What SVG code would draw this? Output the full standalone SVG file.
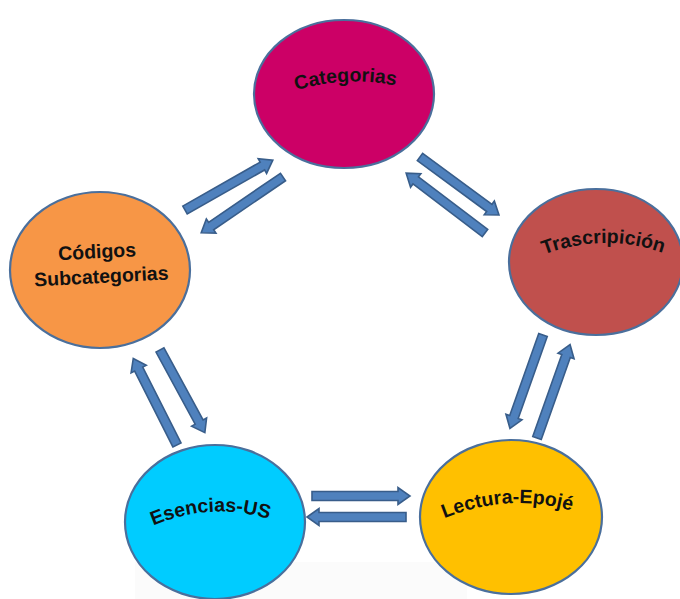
<svg xmlns="http://www.w3.org/2000/svg" width="680" height="599" viewBox="0 0 680 599">
<defs>
<style>
.node{stroke:#4a6f9c;stroke-width:2.2}
.lbl{font-family:"Liberation Sans",Arial,sans-serif;font-weight:bold;font-size:19.5px;fill:#111}
.arr{fill:#4f81bd;stroke:#385d8a;stroke-width:1.6;stroke-linejoin:miter}
</style>
<path id="p-cat" d="M294,91 Q345,75 398,86" fill="none"/>
<path id="p-tra" d="M538,257 Q604,230 669,255" fill="none"/>
<path id="p-ese" d="M148,528 Q212,499 274,521" fill="none"/>
<path id="p-lec" d="M440,520 Q508,491 576,512" fill="none"/>
</defs>
<rect width="680" height="599" fill="#ffffff"/>
<rect x="135" y="562" width="332" height="37" fill="#fbfbfb"/>
<g id="connectors">
<path class="arr" transform="translate(185,210) rotate(-29.6)" d="M0,-4.5 L89,-4.5 L89,-8.5 L101,0 L89,8.5 L89,4.5 L0,4.5 Z"/>
<path class="arr" transform="translate(283,177) rotate(145.7)" d="M0,-4.5 L87,-4.5 L87,-8.5 L99,0 L87,8.5 L87,4.5 L0,4.5 Z"/>
<path class="arr" transform="translate(420,157) rotate(36.3)" d="M0,-4.5 L86,-4.5 L86,-8.5 L98,0 L86,8.5 L86,4.5 L0,4.5 Z"/>
<path class="arr" transform="translate(485,233) rotate(-142.8)" d="M0,-4.5 L87,-4.5 L87,-8.5 L99,0 L87,8.5 L87,4.5 L0,4.5 Z"/>
<path class="arr" transform="translate(543,335) rotate(109.5)" d="M0,-4.5 L87,-4.5 L87,-8.5 L99,0 L87,8.5 L87,4.5 L0,4.5 Z"/>
<path class="arr" transform="translate(537,438) rotate(-70.5)" d="M0,-4.5 L87,-4.5 L87,-8.5 L99,0 L87,8.5 L87,4.5 L0,4.5 Z"/>
<path class="arr" transform="translate(312,496) rotate(0)" d="M0,-4.5 L86,-4.5 L86,-8.5 L98,0 L86,8.5 L86,4.5 L0,4.5 Z"/>
<path class="arr" transform="translate(406,517) rotate(180)" d="M0,-4.5 L87,-4.5 L87,-8.5 L99,0 L87,8.5 L87,4.5 L0,4.5 Z"/>
<path class="arr" transform="translate(160,350) rotate(61.5)" d="M0,-4.5 L82,-4.5 L82,-8.5 L94,0 L82,8.5 L82,4.5 L0,4.5 Z"/>
<path class="arr" transform="translate(177,445) rotate(-116.8)" d="M0,-4.5 L85,-4.5 L85,-8.5 L97,0 L85,8.5 L85,4.5 L0,4.5 Z"/>
</g>
<g id="categorias">
<ellipse class="node" cx="344" cy="94" rx="90" ry="74" fill="#cc0066"/>
<text class="lbl"><textPath href="#p-cat" startOffset="50%" text-anchor="middle">Categorias</textPath></text>
</g>
<g id="trascripcion">
<ellipse class="node" cx="596" cy="262" rx="87" ry="73" fill="#c0504d"/>
<text class="lbl"><textPath href="#p-tra" startOffset="50%" text-anchor="middle">Trascripición</textPath></text>
</g>
<g id="codigos">
<ellipse class="node" cx="100" cy="270" rx="90" ry="78" fill="#f79646"/>
<g transform="rotate(-3 100 270)">
<text class="lbl" x="98" y="258" text-anchor="middle">Códigos</text>
<text class="lbl" x="101" y="283" text-anchor="middle">Subcategorias</text>
</g>
</g>
<g id="esencias">
<ellipse class="node" cx="215" cy="522" rx="90" ry="77" fill="#00ccff"/>
<text class="lbl"><textPath href="#p-ese" startOffset="50%" text-anchor="middle">Esencias-US</textPath></text>
</g>
<g id="lectura">
<ellipse class="node" cx="511" cy="517" rx="91" ry="77" fill="#ffc000"/>
<text class="lbl"><textPath href="#p-lec" startOffset="50%" text-anchor="middle">Lectura-Epojé</textPath></text>
</g>
</svg>
